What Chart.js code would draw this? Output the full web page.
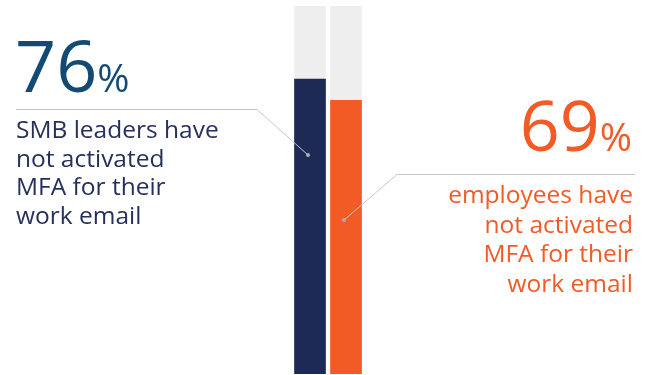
<!DOCTYPE html>
<html>
<head>
<meta charset="utf-8">
<script src="https://cdn.jsdelivr.net/npm/chart.js@4"></script>
<style>
    body { margin: 0; background: #fff; font-family: "Open Sans", sans-serif; }
    #wrap { position: relative; width: 650px; height: 375px; overflow: hidden; }
    #wrap canvas { position: absolute; left: 0; top: 0; }
    .big { position: absolute; line-height: 1; white-space: nowrap; }
    .big .pct { font-size: 39px; }
    .label { position: absolute; font-size: 24.5px; line-height: 28.5px; white-space: nowrap; }
    #big-left { left: 15px; top: 28px; font-size: 72px; color: #124a73; }
    #big-right { right: 18px; top: 89px; font-size: 70px; color: #f25a26; text-align: right; }
    #label-left { left: 16px; top: 115px; color: #27305d; }
    #label-right { right: 17px; top: 179px; color: #f25a26; text-align: right; line-height: 29.5px; }
</style>
</head>
<body>
<div id="wrap">
    <canvas id="mfaChart"></canvas>
    <div class="big" id="big-left">76<span class="pct">%</span></div>
    <div class="label" id="label-left">SMB leaders have<br>not activated<br>MFA for their<br>work email</div>
    <div class="big" id="big-right">69<span class="pct">%</span></div>
    <div class="label" id="label-right">employees have<br>not activated<br>MFA for their<br>work email</div>
</div>
<script>
// --- DATA ---
const categories = ['SMB leaders', 'Employees'];
const notActivated = [76, 69];
const track = [100, 100];
const barColors = ['#1e2a56', '#f25a26'];
const yMin = -21;
const yMax = 100;

// leader lines from the text to the bars
const leaderLines = {
    id: 'leaderLines',
    afterDatasetsDraw(chart) {
        const ctx = chart.ctx;
        const bars = chart.getDatasetMeta(0).data;
        const lines = [
            { pts: [[16, 109.5], [257, 109.5]], dotY: 155, bar: bars[0] },
            { pts: [[635, 174.5], [397, 174.5]], dotY: 220, bar: bars[1] }
        ];
        ctx.save();
        lines.forEach(l => {
            const dx = l.bar.x - 2;
            ctx.strokeStyle = '#c4c6c9';
            ctx.lineWidth = 1;
            ctx.beginPath();
            ctx.moveTo(l.pts[0][0], l.pts[0][1]);
            ctx.lineTo(l.pts[1][0], l.pts[1][1]);
            ctx.lineTo(dx, l.dotY);
            ctx.stroke();
            ctx.fillStyle = '#a9adb3';
            ctx.beginPath();
            ctx.arc(dx, l.dotY, 2, 0, Math.PI * 2);
            ctx.fill();
        });
        ctx.restore();
    }
};

new Chart(document.getElementById('mfaChart'), {
    type: 'bar',
    data: {
        labels: categories,
        datasets: [
            {
                data: notActivated,
                backgroundColor: barColors,
                base: yMin,
                grouped: false,
                barThickness: 31
            },
            {
                data: track,
                backgroundColor: '#eeeeee',
                base: yMin,
                grouped: false,
                barThickness: 31
            }
        ]
    },
    options: {
        responsive: true,
        maintainAspectRatio: false,
        animation: false,
        layout: { padding: { left: 292, right: 286, top: 6, bottom: 1 } },
        scales: {
            x: { display: false },
            y: { display: false, min: yMin, max: yMax }
        },
        plugins: { legend: { display: false }, tooltip: { enabled: false } }
    },
    plugins: [leaderLines]
});
</script>
</body>
</html>
